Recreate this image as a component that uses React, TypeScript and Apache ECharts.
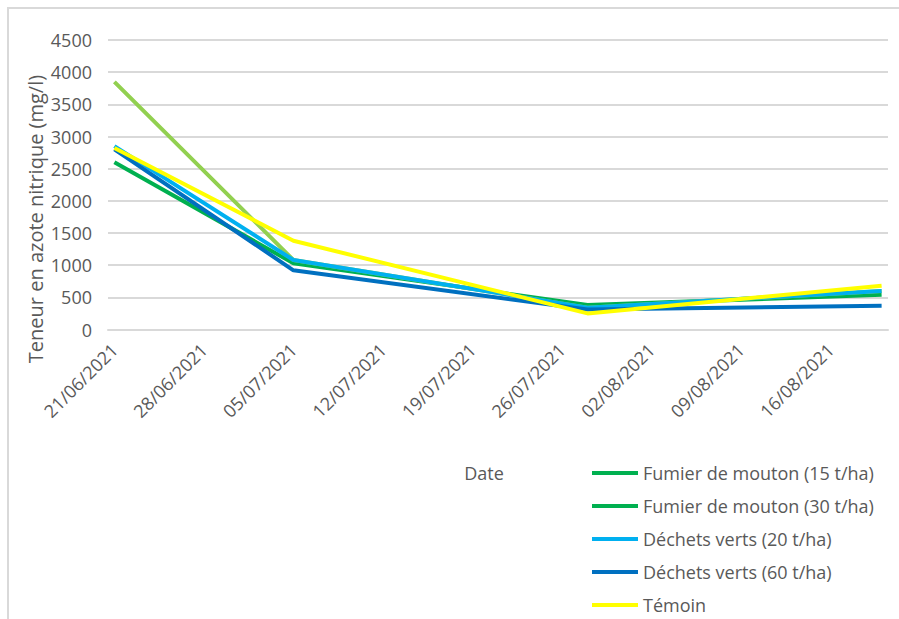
import React, { useEffect, useRef } from "react";
import * as echarts from "echarts";

// ---- Data ----
const startDate = "2021-06-21";
const dayCount = 61; // 21/06/2021 .. 20/08/2021, one slot per day
const sampleDates = ["21/06/2021", "05/07/2021", "28/07/2021", "20/08/2021"];

const fumier15 = [2600, 1030, 380, 540];
const fumier30 = [3850, 1080, 340, 600];
const dechets20 = [2850, 1080, 340, 600];
const dechets60 = [2800, 920, 310, 370];
const temoin = [2820, 1380, 250, 680];

const seriesNames = [
  "Fumier de mouton (15 t/ha)",
  "Fumier de mouton (30 t/ha)",
  "Déchets verts (20 t/ha)",
  "Déchets verts (60 t/ha)",
  "Témoin",
];
const seriesValues = [fumier15, fumier30, dechets20, dechets60, temoin];
const lineColors = ["#00B050", "#92D050", "#00B0F0", "#0070C0", "#FFFF00"];
const legendColors = ["#00B050", "#00B050", "#00B0F0", "#0070C0", "#FFFF00"];

const yTicks = { min: 0, max: 4500, interval: 500 };

function pad(n: number) {
  return n < 10 ? "0" + n : String(n);
}
function buildCategories(): string[] {
  const [y, m, d] = startDate.split("-").map(Number);
  const out: string[] = [];
  for (let i = 0; i < dayCount; i++) {
    const dt = new Date(Date.UTC(y, m - 1, d + i));
    out.push(`${pad(dt.getUTCDate())}/${pad(dt.getUTCMonth() + 1)}/${dt.getUTCFullYear()}`);
  }
  return out;
}

const FONT = "'Open Sans', 'Noto Sans', sans-serif";
const TXT = "#595959";

export default function App() {
  const ref = useRef<HTMLDivElement>(null);
  useEffect(() => {
    if (!ref.current) return;
    const chart = echarts.init(ref.current, undefined, { renderer: "svg" });
    const categories = buildCategories();
    chart.setOption({
      animation: false,
      backgroundColor: "#ffffff",
      textStyle: { fontFamily: FONT },
      grid: { left: 108, right: 11, top: 40, bottom: 289.5, containLabel: false },
      xAxis: {
        type: "category",
        data: categories,
        boundaryGap: true,
        axisLine: { show: true, lineStyle: { color: "#D9D9D9", width: 2 } },
        axisTick: { show: false },
        splitLine: { show: false },
        axisLabel: {
          interval: 6,
          rotate: 45,
          margin: 17,
          color: TXT,
          fontSize: 18,
          fontFamily: FONT,
        },
      },
      yAxis: {
        type: "value",
        min: yTicks.min,
        max: yTicks.max,
        interval: yTicks.interval,
        axisLine: { show: false },
        axisTick: { show: false },
        splitLine: { lineStyle: { color: "#D9D9D9", width: 2 } },
        axisLabel: {
          color: TXT,
          fontSize: 18,
          margin: 16,
          fontFamily: FONT,
          formatter: (v: number) => String(v),
        },
      },
      legend: {
        orient: "vertical",
        left: 592,
        top: 462,
        padding: 0,
        icon: "rect",
        itemWidth: 46,
        itemHeight: 4,
        itemGap: 11,
        textStyle: { color: TXT, fontSize: 18, fontFamily: FONT, padding: [0, 0, 0, 0], lineHeight: 22 },
        data: seriesNames.map((n, i) => ({ name: n, itemStyle: { color: legendColors[i] } })),
      },
      graphic: [
        {
          type: "rect",
          shape: { x: 8, y: 8, width: 1200, height: 1200 },
          style: { fill: "none", stroke: "#D9D9D9", lineWidth: 2 },
          silent: true,
        },
        {
          type: "text",
          x: 35,
          y: 219,
          rotation: Math.PI / 2,
          style: {
            text: "Teneur en azote nitrique (mg/l)",
            fill: TXT,
            font: `20px ${FONT}`,
            align: "center",
            verticalAlign: "middle",
          },
        },
        {
          type: "text",
          x: 484,
          y: 473,
          style: {
            text: "Date",
            fill: TXT,
            font: `18px ${FONT}`,
            align: "center",
            verticalAlign: "middle",
          },
        },
      ],
      series: seriesNames.map((name, i) => ({
        name,
        type: "line",
        showSymbol: false,
        symbol: "none",
        connectNulls: true,
        lineStyle: { color: lineColors[i], width: 4 },
        itemStyle: { color: legendColors[i] },
        data: sampleDates.map((d, k) => [d, seriesValues[i][k]]),
      })),
    });
    return () => chart.dispose();
  }, []);
  return (
    <div
      ref={ref}
      style={{ position: "fixed", left: 0, top: 0, width: 899, height: 619 }}
    />
  );
}
